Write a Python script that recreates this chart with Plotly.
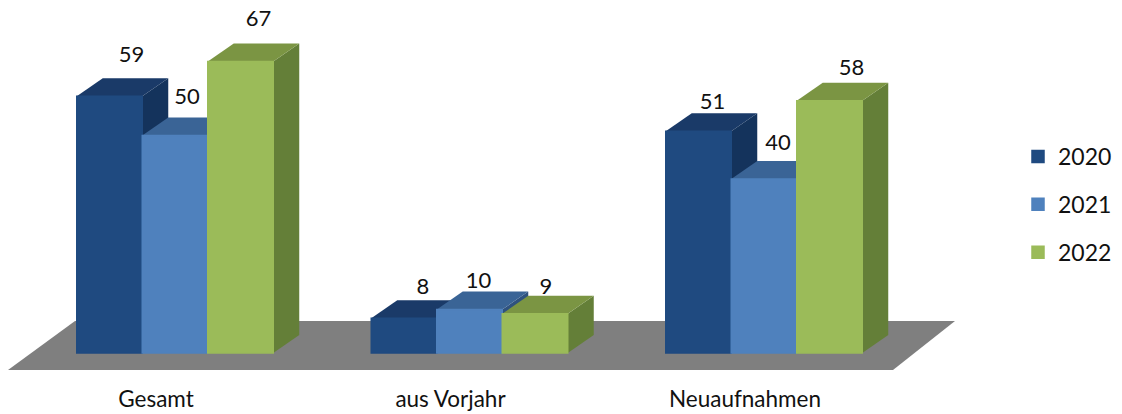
import plotly.graph_objects as go

categories = ["Gesamt", "aus Vorjahr", "Neuaufnahmen"]
series_names = ["2020", "2021", "2022"]
values_2020 = [59, 8, 51]
values_2021 = [50, 10, 40]
values_2022 = [67, 9, 58]

all_values = [values_2020, values_2021, values_2022]
front_colors = ["#1F4A80", "#4F81BD", "#9BBB59"]
top_colors = ["#1A3A68", "#3A6496", "#7B9543"]
side_colors = ["#14335C", "#2F527F", "#647F38"]
floor_color = "#7F7F7F"
FONT = "Lato, Carlito, Calibri, sans-serif"

W, H = 1122, 414
PLOT_BOTTOM = 375
GROUP_PX = 294.5
CENTER0_PX = 175.0
ZERO_PX = 353.0
UNIT_PX = 4.35
BAR_W = 65.5 / GROUP_PX
DEPTH_X = 26 / GROUP_PX
DEPTH_Y = 18 / UNIT_PX


def px_x(px):
    return (px - CENTER0_PX) / GROUP_PX


def px_y(py):
    return (ZERO_PX - py) / UNIT_PX


x_range = [px_x(0), px_x(W)]
y_range = [px_y(PLOT_BOTTOM), px_y(0)]

fig = go.Figure()

# floor
fig.add_trace(go.Scatter(
    x=[px_x(8), px_x(893), px_x(955), px_x(75), px_x(8)],
    y=[px_y(370), px_y(370), px_y(321), px_y(321), px_y(370)],
    fill="toself", fillcolor=floor_color, mode="none",
    showlegend=False, hoverinfo="skip",
))

# depth faces, painted left to right
for g in range(len(categories)):
    for s, vals in enumerate(all_values):
        left = g + (s - 1.5) * BAR_W
        right = left + BAR_W
        v = vals[g]
        fig.add_trace(go.Scatter(
            x=[right, right + DEPTH_X, right + DEPTH_X, right, right],
            y=[0, DEPTH_Y, v + DEPTH_Y, v, 0],
            fill="toself", fillcolor=side_colors[s], mode="none",
            showlegend=False, hoverinfo="skip",
        ))
        fig.add_trace(go.Scatter(
            x=[left, right, right + DEPTH_X, left + DEPTH_X, left],
            y=[v, v, v + DEPTH_Y, v + DEPTH_Y, v],
            fill="toself", fillcolor=top_colors[s], mode="none",
            showlegend=False, hoverinfo="skip",
        ))

# front faces on the overlay axes
for s, vals in enumerate(all_values):
    fig.add_trace(go.Bar(
        x=list(range(len(categories))), y=vals, name=series_names[s],
        marker=dict(color=front_colors[s], line=dict(color=front_colors[s], width=1.5)),
        xaxis="x2", yaxis="y2", legendgroup=series_names[s], hoverinfo="skip",
    ))

# value labels (hand-placed in the source chart)
label_dx_px = [[22, 19, 14], [12, 9, 14], [18, 11, 22]]
label_dy_px = [[40, 30, 28], [37, 27, 35], [41, 25, 31]]
lx, ly, lt = [], [], []
for s, vals in enumerate(all_values):
    for g, v in enumerate(vals):
        lx.append(g + (s - 1) * BAR_W + label_dx_px[s][g] / GROUP_PX)
        ly.append(v + label_dy_px[s][g] / UNIT_PX)
        lt.append(str(v))
fig.add_trace(go.Scatter(
    x=lx, y=ly, text=lt, mode="text", textposition="middle center",
    textfont=dict(family=FONT, size=22, color="#111111"),
    xaxis="x2", yaxis="y2", showlegend=False, hoverinfo="skip", cliponaxis=False,
))

fig.update_layout(
    width=W, height=H,
    margin=dict(l=0, r=0, t=0, b=H - PLOT_BOTTOM, pad=0),
    paper_bgcolor="white", plot_bgcolor="rgba(0,0,0,0)",
    barmode="group", bargap=1 - 3 * BAR_W, bargroupgap=0,
    hovermode=False,
    font=dict(family=FONT, color="#111111"),
    xaxis=dict(
        range=x_range, showgrid=False, zeroline=False, showline=False, ticks="",
        tickmode="array", tickvals=[i - 19 / GROUP_PX for i in range(3)],
        ticktext=categories, tickfont=dict(family=FONT, size=22.5, color="#111111"),
        ticklabelstandoff=8,
    ),
    yaxis=dict(range=y_range, visible=False),
    xaxis2=dict(range=x_range, overlaying="x", visible=False, anchor="y2"),
    yaxis2=dict(range=y_range, overlaying="y", visible=False, anchor="x2"),
    legend=dict(
        x=1018 / W, xanchor="left", y=1 - 135 / PLOT_BOTTOM, yanchor="top",
        font=dict(family=FONT, size=23, color="#111111"),
        tracegroupgap=15, bgcolor="rgba(0,0,0,0)", itemclick=False, itemdoubleclick=False,
        traceorder="grouped",
    ),
)

fig.write_html(
    "out.html",
    config=dict(displayModeBar=False),
    post_script="document.body.style.margin='0';document.body.style.overflow='hidden';",
)
